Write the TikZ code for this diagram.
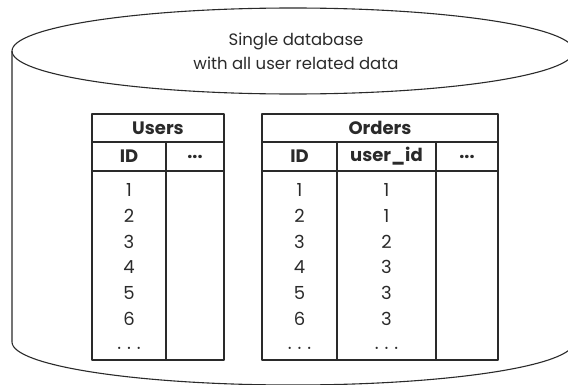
\documentclass[tikz,border=0pt]{standalone}
\usepackage{fontspec}
\setmainfont{Poppins}
\definecolor{ink}{HTML}{2A2A2A}
\begin{document}
\begin{tikzpicture}[x=1pt,y=1pt,line join=round,
  cyl/.style={draw=ink,line width=1.1pt},
  tbl/.style={draw=ink,line width=1.5pt},
  hd/.style={font=\fontsize{18}{20}\selectfont\bfseries,text=ink,inner sep=0pt},
  cell/.style={font=\fontsize{18}{20}\selectfont,text=ink,anchor=base,inner sep=0pt},
  ttl/.style={font=\fontsize{16.5}{24}\selectfont,text=ink,align=center,inner sep=0pt}]
\useasboundingbox (0,0) rectangle (568,384);
% cylinder
\draw[cyl] (293,333) ellipse[x radius=281,y radius=43];
\draw[cyl] (12,333) -- (12,42) arc[start angle=180,end angle=360,x radius=281,y radius=43] -- (574,333);
\node[ttl] (title) at (296,333) {Single database\\with all user related data};
% Users table
\draw[tbl] (92,270) rectangle (224,24);
\draw[tbl] (92,242) -- (224,242);
\draw[tbl] (92,213) -- (224,213);
\draw[tbl] (166,242) -- (166,24);
\node[hd] (users) at (158,256) {Users};
\node[hd] (uid) at (129,227.5) {ID};
\node[hd] (umore) at (195,227.5) {...};
% Orders table
\draw[tbl] (262,270) rectangle (498,24);
\draw[tbl] (262,242) -- (498,242);
\draw[tbl] (262,213) -- (498,213);
\draw[tbl] (337,242) -- (337,24);
\draw[tbl] (436,242) -- (436,24);
\node[hd] (orders) at (380,256) {Orders};
\node[hd] (oid) at (299.5,227.5) {ID};
\node[hd] (ouid) at (386.5,227.5) {user\_id};
\node[hd] (omore) at (467,227.5) {...};
% data
\foreach \i/\u/\o/\p [count=\k from 0] in {1/1/1/1,2/2/2/1,3/3/3/2,4/4/4/3,5/5/5/3,6/6/6/3}{
  \node[cell] (u\k) at (129,187.5-25.8*\k) {\u};
  \node[cell] (o\k) at (299.5,187.5-25.8*\k) {\o};
  \node[cell] (p\k) at (386.5,187.5-25.8*\k) {\p};
}
\node[cell] (ud) at (129,30) {\textperiodcentered\,\,\textperiodcentered\,\,\textperiodcentered};
\node[cell] (od) at (299.5,30) {\textperiodcentered\,\,\textperiodcentered\,\,\textperiodcentered};
\node[cell] (pd) at (386.5,30) {\textperiodcentered\,\,\textperiodcentered\,\,\textperiodcentered};
\end{tikzpicture}
\end{document}
